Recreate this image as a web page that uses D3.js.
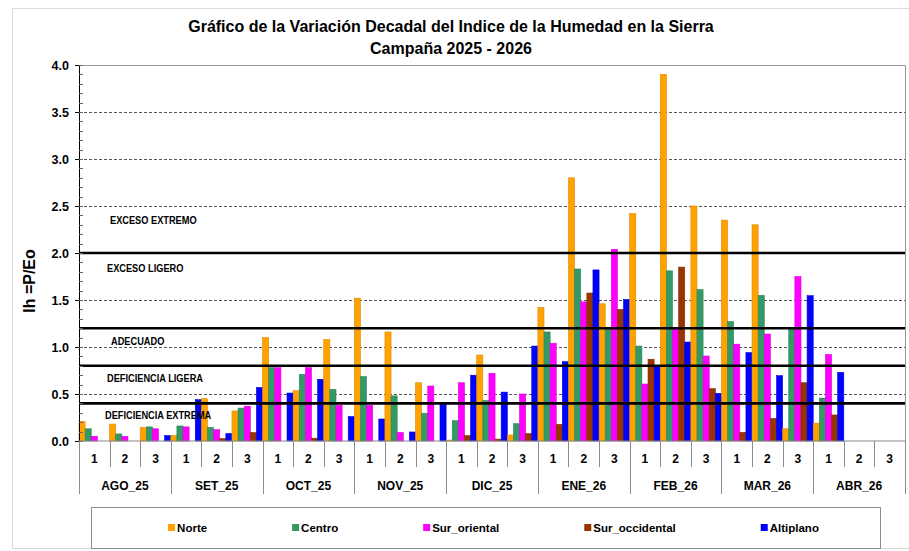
<!DOCTYPE html>
<html>
<head>
<meta charset="utf-8">
<script src="https://cdnjs.cloudflare.com/ajax/libs/d3/7.8.5/d3.min.js"></script>
<style>
  body { margin: 0; background: #fff; }
  svg text { font-family: "Liberation Sans", Arial, sans-serif; font-weight: bold; fill: #000; }
</style>
</head>
<body>
<svg id="chart" width="909" height="551"></svg>
<script>
// Data: months, decades and the humidity index per zone
const months = ["AGO_25", "SET_25", "OCT_25", "NOV_25", "DIC_25", "ENE_26", "FEB_26", "MAR_26", "ABR_26"];
const decades = ["1", "2", "3"];
const seriesNames = ["Norte", "Centro", "Sur_oriental", "Sur_occidental", "Altiplano"];
const seriesColors = ["#FFA200", "#339966", "#FF00FF", "#993300", "#0000FF"];

const norte        = [0.21, 0.18, 0.145, 0.057, 0.45, 0.32, 1.10, 0.535, 1.08, 1.52, 1.16, 0.62, 0.01, 0.915, 0.064, 1.42, 2.80, 1.46, 2.42, 3.90, 2.50, 2.35, 2.30, 0.13, 0.19, null, null];
const centro       = [0.13, 0.075, 0.15, 0.16, 0.145, 0.35, 0.78, 0.71, 0.55, 0.685, 0.48, 0.295, 0.216, 0.43, 0.184, 1.16, 1.83, 1.21, 1.01, 1.81, 1.61, 1.27, 1.55, 1.19, 0.457, null, null];
const surOriental  = [0.05, 0.05, 0.13, 0.15, 0.12, 0.37, 0.78, 0.78, 0.38, 0.38, 0.09, 0.585, 0.62, 0.72, 0.50, 1.04, 1.48, 2.04, 0.606, 1.19, 0.904, 1.03, 1.138, 1.75, 0.92, null, null];
const surOccidental= [0, 0, 0, 0, 0.025, 0.09, 0, 0.03, 0, 0, 0, 0, 0.057, 0.02, 0.078, 0.177, 1.574, 1.40, 0.87, 1.85, 0.557, 0.092, 0.24, 0.62, 0.277, null, null];
const altiplano    = [0, 0, 0.057, 0.44, 0.08, 0.57, 0.51, 0.656, 0.26, 0.234, 0.096, 0.39, 0.70, 0.52, 1.01, 0.844, 1.82, 1.507, 0.80, 1.053, 0.507, 0.94, 0.695, 1.546, 0.73, null, null];
const seriesValues = [norte, centro, surOriental, surOccidental, altiplano];

// Threshold lines and class labels (value where the label sits)
const thresholds = [0.4, 0.8, 1.2, 2.0];
const gridValues = [0.5, 1.0, 1.5, 2.5, 3.0, 3.5];
const classLabels = ["EXCESO EXTREMO", "EXCESO LIGERO", "ADECUADO", "DEFICIENCIA LIGERA", "DEFICIENCIA EXTREMA"];
const classLabelValues = [2.35, 1.84, 1.06, 0.67, 0.27];
const yTicks = [0, 0.5, 1.0, 1.5, 2.0, 2.5, 3.0, 3.5, 4.0];

const svg = d3.select("#chart");
const pLeft = 79, pRight = 905, pTop = 65, pBottom = 441;

// outer chart border
svg.append("rect")
   .attr("x", 12.5).attr("y", 8.5).attr("width", 920).attr("height", 540)
   .attr("fill", "none").attr("stroke", "#d9d9d9");

// titles
svg.append("text").attr("x", 451).attr("y", 32).attr("text-anchor", "middle")
   .attr("font-size", 16)
   .text("Gráfico de la Variación Decadal del Indice de la Humedad en la Sierra");
svg.append("text").attr("x", 451).attr("y", 54).attr("text-anchor", "middle")
   .attr("font-size", 16)
   .text("Campaña 2025 - 2026");

// scales
const keys = [];
months.forEach(m => decades.forEach(d => keys.push(m + "|" + d)));
const x = d3.scaleBand().domain(keys).range([pLeft, pRight]).padding(0);
const xs = d3.scaleBand().domain(seriesNames).range([0, x.bandwidth()]).padding(0);
const y = d3.scaleLinear().domain([0, 4]).range([pBottom, pTop]);

// plot frame (top/right)
svg.append("path")
   .attr("d", `M${pLeft},${pTop + 0.5}H${pRight + 0.5}V${pBottom}`)
   .attr("fill", "none").attr("stroke", "#999");

// dashed gridlines
svg.append("g").selectAll("line").data(gridValues).enter().append("line")
   .attr("x1", pLeft).attr("x2", pRight)
   .attr("y1", d => Math.round(y(d)) + 0.5).attr("y2", d => Math.round(y(d)) + 0.5)
   .attr("stroke", "#555").attr("stroke-dasharray", "3,2").attr("stroke-width", 1);

// bars
const table = keys.map((k, i) => ({ key: k, values: seriesValues.map(s => s[i]) }));
const groups = svg.append("g").selectAll("g").data(table).enter().append("g")
   .attr("transform", d => `translate(${x(d.key)},0)`);
groups.selectAll("rect")
   .data(d => d.values
      .map((v, j) => ({ name: seriesNames[j], value: v, color: seriesColors[j] }))
      .filter(e => e.value != null && e.value > 0))
   .enter().append("rect")
   .attr("x", d => xs(d.name))
   .attr("y", d => y(d.value))
   .attr("width", xs.bandwidth())
   .attr("height", d => pBottom - y(d.value))
   .attr("fill", d => d.color)
   .attr("stroke", d => d3.color(d.color).darker(0.4))
   .attr("stroke-width", 0.6);

// thick threshold lines
svg.append("g").selectAll("line").data(thresholds).enter().append("line")
   .attr("x1", pLeft).attr("x2", pRight)
   .attr("y1", d => y(d)).attr("y2", d => y(d))
   .attr("stroke", "#000").attr("stroke-width", 2.6);

// class labels (slightly condensed, like the original Calibri)
svg.append("g").selectAll("text").data(classLabels).enter().append("text")
   .attr("transform", (d, i) => `translate(${[110, 107, 111, 107, 105][i]},${y(classLabelValues[i])}) scale(0.88,1)`)
   .attr("dy", "0.35em")
   .attr("font-size", 10.5)
   .text(d => d);

// y axis
const yAxis = d3.axisLeft(y).tickValues(yTicks).tickFormat(d3.format(".1f")).tickSize(4).tickPadding(6);
const gy = svg.append("g").attr("transform", `translate(${pLeft},0)`).call(yAxis);
gy.select(".domain").attr("stroke", "#000");
gy.selectAll("text").attr("font-size", 12.5).attr("font-family", "Liberation Sans, Arial").attr("font-weight", "bold");
// minor ticks inside
svg.append("g").selectAll("line").data(d3.range(0, 41).map(i => i / 10)).enter().append("line")
   .attr("x1", pLeft).attr("x2", pLeft + 4)
   .attr("y1", d => Math.round(y(d)) + 0.5).attr("y2", d => Math.round(y(d)) + 0.5)
   .attr("stroke", "#666");

// y title
svg.append("text")
   .attr("transform", `translate(35,281) rotate(-90)`)
   .attr("text-anchor", "middle").attr("font-size", 16)
   .text("Ih =P/Eo");

// x axis line
svg.append("line").attr("x1", pLeft).attr("x2", pRight + 1).attr("y1", pBottom).attr("y2", pBottom)
   .attr("stroke", "#888").attr("stroke-width", 1.2);

// decade separators and labels
const xg = svg.append("g");
xg.selectAll(".dsep").data(keys.concat(["end"])).enter().append("line")
   .attr("x1", (d, i) => Math.round(pLeft + i * x.bandwidth()) + 0.5)
   .attr("x2", (d, i) => Math.round(pLeft + i * x.bandwidth()) + 0.5)
   .attr("y1", pBottom)
   .attr("y2", (d, i) => i % 3 === 0 ? 494 : 467)
   .attr("stroke", "#8c8c8c");
xg.selectAll(".dlab").data(keys).enter().append("text")
   .attr("x", d => x(d) + x.bandwidth() / 2)
   .attr("y", 463).attr("text-anchor", "middle").attr("font-size", 12)
   .text(d => d.split("|")[1]);
xg.selectAll(".mlab").data(months).enter().append("text")
   .attr("x", d => x(d + "|2") + x.bandwidth() / 2)
   .attr("y", 490).attr("text-anchor", "middle").attr("font-size", 12)
   .text(d => d);

// legend
const legBox = { x: 91, y: 507, w: 789, h: 41 };
svg.append("rect").attr("x", legBox.x + 0.5).attr("y", legBox.y + 0.5)
   .attr("width", legBox.w).attr("height", legBox.h)
   .attr("fill", "#fff").attr("stroke", "#8c8c8c");
const leg = svg.append("g");
const items = leg.selectAll("g").data(seriesNames).enter().append("g");
items.append("rect").attr("width", 7).attr("height", 7).attr("y", -3.5)
   .attr("fill", (d, i) => seriesColors[i]);
items.append("text").attr("x", 9).attr("dy", "0.35em")
   .attr("font-size", 11.5).text(d => d);
const widths = [];
items.each(function () { widths.push(this.getBBox().width); });
const gap = 85;
const total = d3.sum(widths) + gap * (widths.length - 1);
let cx = legBox.x + (legBox.w - total) / 2 + 8;
items.attr("transform", (d, i) => {
   const t = `translate(${cx},${legBox.y + legBox.h / 2})`;
   cx += widths[i] + gap;
   return t;
});
</script>
</body>
</html>
